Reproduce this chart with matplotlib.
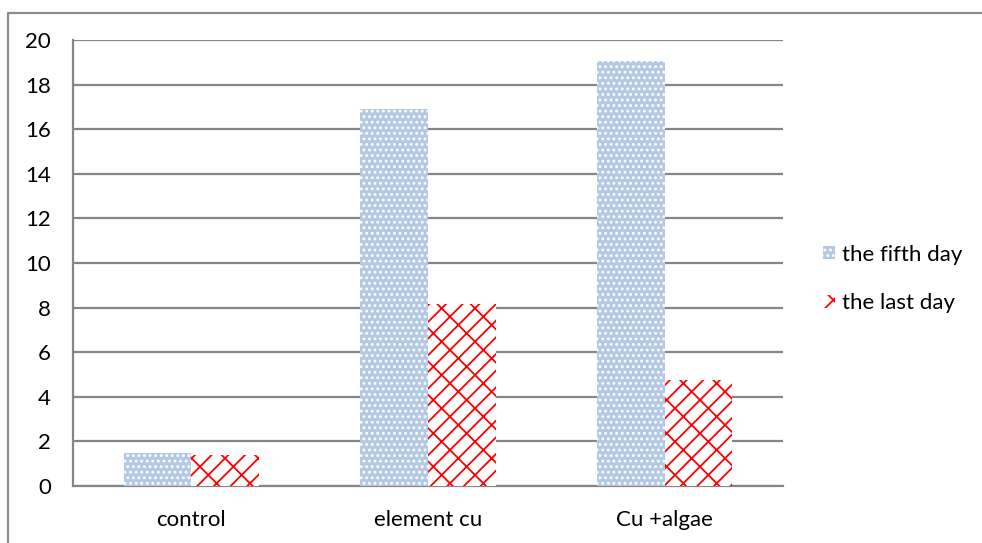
import matplotlib
matplotlib.use("Agg")
import matplotlib.pyplot as plt
import numpy as np
from matplotlib.lines import Line2D

categories = ["control", "element cu", "Cu +algae"]
fifth_day = [1.5, 16.9, 19.05]
last_day = [1.4, 8.15, 4.75]
series_labels = ["the fifth day", "the last day"]
yticks = [0, 2, 4, 6, 8, 10, 12, 14, 16, 18, 20]

plt.rcParams['font.family'] = ['Lato', 'DejaVu Sans']
plt.rcParams['hatch.linewidth'] = 1.3

W, H = 982, 543
fig = plt.figure(figsize=(W/100, H/100), dpi=100)
ax = fig.add_axes([73/W, (H-486)/H, 710/W, 446/H])

grid_c = '#868686'
x = np.arange(len(categories))
bw = 0.2857
ax.bar(x - bw/2, fifth_day, width=bw, facecolor='#b3c8e2', edgecolor='white',
       hatch='...', linewidth=0, zorder=3, label=series_labels[0])
ax.bar(x + bw/2, last_day, width=bw, facecolor='white', edgecolor='#ff0000',
       hatch='//\\', linewidth=0, zorder=3, label=series_labels[1])

ax.set_xlim(-0.5, 2.5)
ax.set_ylim(0, 20)
ax.set_yticks(yticks)
ax.set_yticklabels([str(v) for v in yticks])
ax.set_xticks(x)
ax.set_xticklabels(categories)
ax.yaxis.grid(True, color=grid_c, linewidth=1.6, zorder=0)
ax.set_axisbelow(True)
for s in ['top', 'right']:
    ax.spines[s].set_visible(False)
for s in ['left', 'bottom']:
    ax.spines[s].set_color(grid_c)
    ax.spines[s].set_linewidth(1.6)
ax.tick_params(axis='both', length=0, labelsize=16, colors='black')
ax.tick_params(axis='y', pad=16)
ax.tick_params(axis='x', pad=17)

leg = fig.legend(loc='center left', bbox_to_anchor=(823/W, (H-279)/H),
                 frameon=False, fontsize=16, handlelength=0.55, handleheight=0.55,
                 handletextpad=0.3, labelspacing=1.3, borderpad=0, borderaxespad=0)

# outer chart border (top and left only visible)
fig.add_artist(Line2D([8/W, 8/W, 1.0], [0.0, (H-13)/H, (H-13)/H],
                      transform=fig.transFigure, color='#8c8c8c', linewidth=1.6))

fig.savefig('out.png', dpi=100)
